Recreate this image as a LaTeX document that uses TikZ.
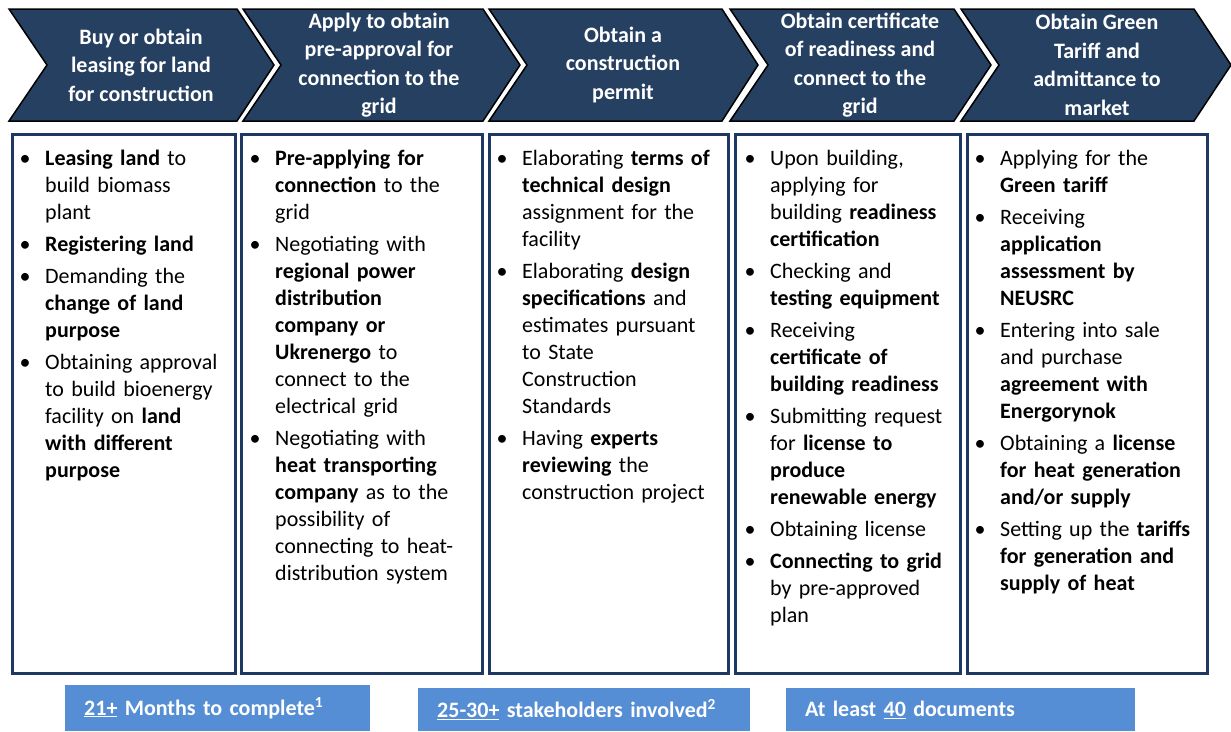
\documentclass[tikz,border=0pt]{standalone}
\usepackage{fontspec}
\setmainfont{Carlito}
\usetikzlibrary{positioning}

\definecolor{chevfill}{RGB}{38,64,97}
\definecolor{boxline}{RGB}{31,56,99}
\definecolor{barfill}{RGB}{85,142,213}

\newcommand{\bitem}[1]{\par\noindent\hangindent=25.5pt\hangafter=1\makebox[25.5pt][l]{\textbullet}#1\par}

\begin{document}
\begin{tikzpicture}[x=1pt, y=-1pt,
    chevron/.style={fill=chevfill, draw=black, line width=1.5pt, line join=miter},
    heading/.style={text=white, font=\bfseries\fontsize{22}{28.5}\selectfont, align=center, inner sep=0pt},
    listbox/.style={draw=boxline, line width=3pt},
    listtext/.style={anchor=north west, inner sep=0pt, text width=250pt, align=left,
        font=\fontsize{22}{27}\selectfont, execute at begin node={\setlength{\parskip}{5pt}}},
    factbar/.style={fill=barfill, anchor=north west, minimum height=46pt, inner xsep=19pt,
        text=white, align=left, font=\bfseries\fontsize{22}{24}\selectfont}]

        \useasboundingbox (0,0) rectangle (1231,731);

        \draw[chevron] (9,9) -- (237,9) -- (274,65) -- (237,121) -- (9,121) -- (47,65) -- cycle;
        \draw[chevron] (243,9) -- (483,9) -- (520,65) -- (483,121) -- (243,121) -- (281,65) -- cycle;
        \draw[chevron] (489,9) -- (722,9) -- (758,65) -- (722,121) -- (489,121) -- (527,65) -- cycle;
        \draw[chevron] (730,9) -- (954,9) -- (991,65) -- (954,121) -- (730,121) -- (768,65) -- cycle;
        \draw[chevron] (961,9) -- (1194,9) -- (1231,65) -- (1194,121) -- (961,121) -- (999,65) -- cycle;

        \node[heading] (head1) at (141,65) {Buy or obtain\\leasing for land\\for construction};
        \node[heading] (head2) at (379,65) {Apply to obtain\\pre-approval for\\connection to the\\grid};
        \node[heading] (head3) at (623,65) {Obtain a\\construction\\permit};
        \node[heading] (head4) at (860,65) {Obtain certificate\\of readiness and\\connect to the\\grid};
        \node[heading] (head5) at (1097,65) {Obtain Green\\Tariff and\\admittance to\\market};

        \draw[listbox] (12,134) rectangle (235,673);
        \draw[listbox] (241,134) rectangle (482,673);
        \draw[listbox] (489,134) rectangle (728,673);
        \draw[listbox] (735,134) rectangle (960,673);
        \draw[listbox] (967,134) rectangle (1207,673);

        \node[listtext] (list1) at (19.5,133) {%
            \bitem{\textbf{Leasing land} to\newline build biomass\newline plant}
            \bitem{\textbf{Registering land}}
            \bitem{Demanding the\newline \textbf{change of land}\newline \textbf{purpose}}
            \bitem{Obtaining approval\newline to build bioenergy\newline facility on \textbf{land}\newline \textbf{with different}\newline \textbf{purpose}}};
        \node[listtext] (list2) at (249.5,133) {%
            \bitem{\textbf{Pre-applying for}\newline \textbf{connection} to the\newline grid}
            \bitem{Negotiating with\newline \textbf{regional power}\newline \textbf{distribution}\newline \textbf{company or}\newline \textbf{Ukrenergo} to\newline connect to the\newline electrical grid}
            \bitem{Negotiating with\newline \textbf{heat transporting}\newline \textbf{company} as to the\newline possibility of\newline connecting to heat-\newline distribution system}};
        \node[listtext] (list3) at (496.5,133) {%
            \bitem{Elaborating \textbf{terms of}\newline \textbf{technical design}\newline assignment for the\newline facility}
            \bitem{Elaborating \textbf{design}\newline \textbf{specifications} and\newline estimates pursuant\newline to State\newline Construction\newline Standards}
            \bitem{Having \textbf{experts}\newline \textbf{reviewing} the\newline construction project}};
        \node[listtext] (list4) at (744.5,133) {%
            \bitem{Upon building,\newline applying for\newline building \textbf{readiness}\newline \textbf{certification}}
            \bitem{Checking and\newline \textbf{testing equipment}}
            \bitem{Receiving\newline \textbf{certificate of}\newline \textbf{building readiness}}
            \bitem{Submitting request\newline for \textbf{license to}\newline \textbf{produce}\newline \textbf{renewable energy}}
            \bitem{Obtaining license}
            \bitem{\textbf{Connecting to grid}\newline by pre-approved\newline plan}};
        \node[listtext] (list5) at (974.5,133) {%
            \bitem{Applying for the\newline \textbf{Green tariff}}
            \bitem{Receiving\newline \textbf{application}\newline \textbf{assessment  by}\newline \textbf{NEUSRC}}
            \bitem{Entering into sale\newline and purchase\newline \textbf{agreement with}\newline \textbf{Energorynok}}
            \bitem{Obtaining a \textbf{license}\newline \textbf{for heat generation}\newline \textbf{and/or supply}}
            \bitem{Setting up the \textbf{tariffs}\newline \textbf{for generation and}\newline \textbf{supply of heat}}};

        \node[factbar, text width=267pt] (months) at (65,685) {\underline{21+} Months to complete\textsuperscript{1}};
        \node[factbar, text width=294pt, minimum height=43pt] (people) at (418,688) {\underline{25-30+} stakeholders involved\textsuperscript{2}};
        \node[factbar, text width=311pt, minimum height=43pt] (docs) at (786,688) {At least \underline{40} documents};
        %\node at (1100,710) {\strut footnotes};
    \end{tikzpicture}
\end{document}
